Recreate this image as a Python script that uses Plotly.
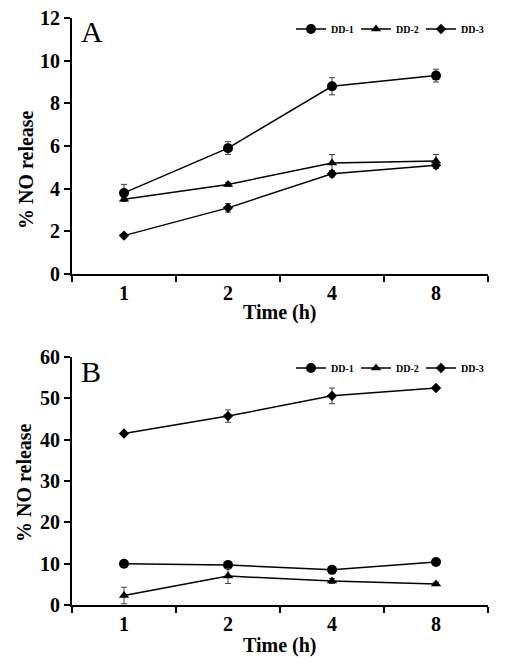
import plotly.graph_objects as go

times = ["1", "2", "4", "8"]
series_names = ["DD-1", "DD-2", "DD-3"]

a_dd1 = [3.8, 5.9, 8.8, 9.3]
a_dd1_err = [0.4, 0.3, 0.4, 0.3]
a_dd2 = [3.5, 4.2, 5.2, 5.3]
a_dd2_err = [0.1, 0.1, 0.4, 0.3]
a_dd3 = [1.8, 3.1, 4.7, 5.1]
a_dd3_err = [0.1, 0.2, 0.15, 0.15]

b_dd1 = [10.0, 9.7, 8.5, 10.4]
b_dd1_err = [0.3, 0.5, 0.5, 0.4]
b_dd2 = [2.3, 7.0, 5.8, 5.1]
b_dd2_err = [2.0, 1.8, 0.6, 0.4]
b_dd3 = [41.5, 45.7, 50.6, 52.5]
b_dd3_err = [0.5, 1.5, 1.9, 0.5]

y_ticks_a = [0, 2, 4, 6, 8, 10, 12]
y_ticks_b = [0, 10, 20, 30, 40, 50, 60]

symbols = ["circle", "triangle-up", "diamond"]
sizes = [10, 9, 8]
FONT = "Liberation Serif"

# page has 8px body margin; figure sized to fit inside the window
W, H = 489, 651
OFF = 8

def X(px):
    return (px - OFF) / W

def Y(py):
    return 1 - (py - OFF) / H

fig = go.Figure()

panels = [
    ("x", "y", "legend", [a_dd1, a_dd2, a_dd3], [a_dd1_err, a_dd2_err, a_dd3_err]),
    ("x2", "y2", "legend2", [b_dd1, b_dd2, b_dd3], [b_dd1_err, b_dd2_err, b_dd3_err]),
]
for xa, ya, leg, vals, errs in panels:
    for name, v, e, sym, sz in zip(series_names, vals, errs, symbols, sizes):
        fig.add_trace(go.Scatter(
            x=times, y=v, name=name, mode="lines+markers",
            xaxis=xa, yaxis=ya, legend=leg,
            line=dict(color="black", width=1.5),
            marker=dict(symbol=sym, size=sz, color="black"),
            error_y=dict(type="data", array=e, visible=True, color="#444", thickness=1, width=3),
        ))

xdom = [X(72), X(488)]
ydom_a = [Y(274), Y(18)]
ydom_b = [Y(605), Y(357)]

tickfont = dict(family=FONT, size=20, color="black", weight="bold")

def xaxis_cfg(anchor):
    return dict(domain=xdom, anchor=anchor, type="category", range=[-0.5, 3.5],
                showline=True, linecolor="black", linewidth=2, ticks="outside",
                tickson="boundaries", ticklen=6, tickwidth=2, tickcolor="black",
                showgrid=False, zeroline=False, tickfont=tickfont, fixedrange=True)

def yaxis_cfg(anchor, dom, rng, tv):
    return dict(domain=dom, anchor=anchor, range=rng, tickvals=tv,
                showline=True, linecolor="black", linewidth=2, ticks="outside",
                ticklen=6, tickwidth=2, tickcolor="black", showgrid=False,
                zeroline=False, tickfont=tickfont, ticklabeloverflow="allow")

leg_common = dict(orientation="h", xanchor="right", yanchor="middle",
                  font=dict(family=FONT, size=10, color="black", weight="bold"),
                  bgcolor="rgba(0,0,0,0)", entrywidth=20, entrywidthmode="pixels",
                  tracegroupgap=0)

fig.update_layout(
    width=W, height=H,
    margin=dict(l=0, r=0, t=0, b=0, autoexpand=False),
    paper_bgcolor="white", plot_bgcolor="white",
    showlegend=True,
    xaxis=xaxis_cfg("y"),
    yaxis=yaxis_cfg("x", ydom_a, [0, 12], y_ticks_a),
    xaxis2=xaxis_cfg("y2"),
    yaxis2=yaxis_cfg("x2", ydom_b, [0, 60], y_ticks_b),
    legend=dict(x=X(486), y=Y(29), **leg_common),
    legend2=dict(x=X(486), y=Y(368), **leg_common),
)

ann_font_title = dict(family=FONT, size=20, color="black", weight="bold")
annotations = [
    dict(text="A", x=X(79), y=Y(31), xref="paper", yref="paper",
         xanchor="left", yanchor="middle", showarrow=False,
         font=dict(family=FONT, size=30, color="black")),
    dict(text="B", x=X(79), y=Y(371), xref="paper", yref="paper",
         xanchor="left", yanchor="middle", showarrow=False,
         font=dict(family=FONT, size=30, color="black")),
    dict(text="Time (h)", x=X(280), y=Y(312), xref="paper", yref="paper",
         xanchor="center", yanchor="middle", showarrow=False, font=ann_font_title),
    dict(text="Time (h)", x=X(280), y=Y(645), xref="paper", yref="paper",
         xanchor="center", yanchor="middle", showarrow=False, font=ann_font_title),
    dict(text="% NO release", x=X(26), y=Y(170), xref="paper", yref="paper",
         xanchor="center", yanchor="middle", showarrow=False, textangle=-90, font=ann_font_title),
    dict(text="% NO release", x=X(24), y=Y(483), xref="paper", yref="paper",
         xanchor="center", yanchor="middle", showarrow=False, textangle=-90, font=ann_font_title),
]
fig.update_layout(annotations=annotations)

fig.write_html("out.html")
